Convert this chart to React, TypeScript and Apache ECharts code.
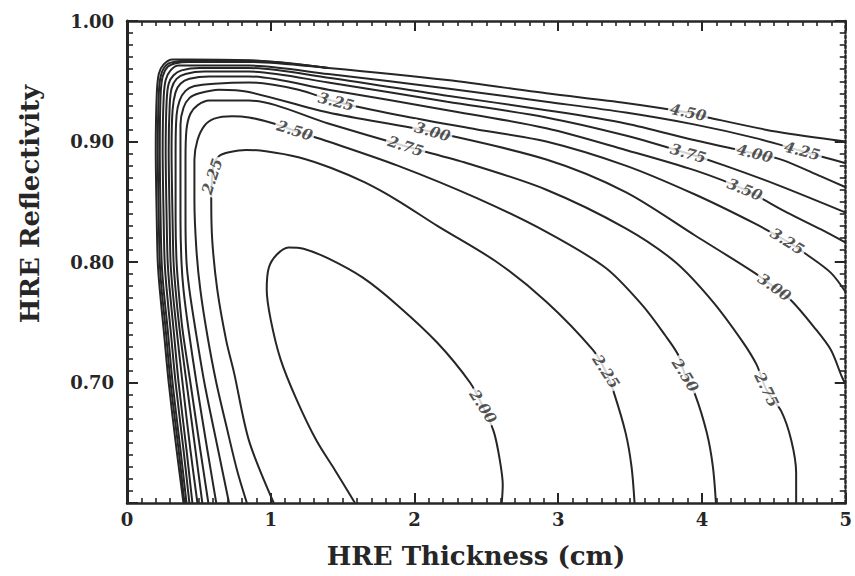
import React, { useEffect, useRef } from 'react';
import * as echarts from 'echarts';

// Axis ranges / ticks
const xRange = [0, 5];
const yRange = [0.6, 1.0];
const hiddenYLabel = '0.60';

// Contour lines: [HRE thickness (cm), HRE reflectivity]
const c200 = [[1.586,0.600],[1.448,0.627],[1.317,0.652],[1.179,0.686],[1.069,0.719],[1.000,0.752],[0.972,0.777],[0.986,0.795],[1.041,0.806],[1.124,0.812],[1.228,0.811],[1.400,0.803],[1.641,0.787],[1.883,0.764],[2.159,0.733],[2.386,0.700],[2.476,0.680],[2.552,0.659],[2.593,0.636],[2.614,0.615],[2.607,0.600]];
const c225 = [[1.021,0.600],[0.848,0.652],[0.745,0.708],[0.690,0.735],[0.628,0.777],[0.593,0.818],[0.586,0.851],[0.593,0.871],[0.607,0.882],[0.641,0.888],[0.710,0.891],[0.828,0.893],[0.966,0.892],[1.193,0.887],[1.421,0.878],[1.655,0.866],[1.883,0.851],[2.159,0.830],[2.572,0.800],[2.917,0.767],[3.241,0.727],[3.331,0.709],[3.386,0.692],[3.469,0.658],[3.510,0.630],[3.531,0.600]];
const c250 = [[0.834,0.600],[0.766,0.627],[0.697,0.661],[0.621,0.700],[0.559,0.739],[0.510,0.777],[0.483,0.810],[0.469,0.851],[0.469,0.885],[0.490,0.901],[0.538,0.913],[0.607,0.919],[0.731,0.921],[0.848,0.920],[1.021,0.915],[1.166,0.909],[1.400,0.900],[1.883,0.880],[2.434,0.853],[2.917,0.825],[3.331,0.795],[3.586,0.764],[3.745,0.739],[3.834,0.723],[3.883,0.706],[3.952,0.690],[4.034,0.658],[4.076,0.630],[4.097,0.600]];
const c275 = [[0.710,0.600],[0.634,0.644],[0.538,0.700],[0.476,0.744],[0.434,0.777],[0.414,0.800],[0.407,0.835],[0.407,0.885],[0.414,0.910],[0.441,0.923],[0.490,0.930],[0.572,0.934],[0.710,0.934],[0.848,0.934],[1.400,0.915],[1.938,0.896],[2.366,0.882],[2.917,0.860],[3.469,0.828],[3.814,0.800],[4.069,0.768],[4.276,0.735],[4.379,0.715],[4.448,0.694],[4.552,0.676],[4.621,0.652],[4.655,0.625],[4.655,0.600]];
const c300 = [[0.621,0.600],[0.559,0.644],[0.483,0.700],[0.428,0.744],[0.393,0.777],[0.379,0.800],[0.372,0.835],[0.372,0.885],[0.372,0.914],[0.393,0.928],[0.434,0.936],[0.503,0.940],[0.641,0.943],[0.848,0.941],[1.400,0.924],[2.124,0.908],[2.917,0.885],[3.469,0.858],[3.952,0.822],[4.366,0.791],[4.503,0.779],[4.621,0.768],[4.779,0.746],[4.897,0.727],[4.972,0.705],[5.000,0.698]];
const c325 = [[0.566,0.600],[0.510,0.644],[0.441,0.700],[0.386,0.744],[0.359,0.777],[0.345,0.800],[0.338,0.835],[0.338,0.893],[0.345,0.922],[0.366,0.934],[0.407,0.942],[0.469,0.946],[0.607,0.948],[0.848,0.949],[1.193,0.943],[1.455,0.933],[1.883,0.922],[2.434,0.910],[2.917,0.900],[3.469,0.880],[3.952,0.856],[4.366,0.832],[4.593,0.817],[4.731,0.806],[4.897,0.791],[5.000,0.775]];
const c350 = [[0.524,0.600],[0.476,0.644],[0.414,0.700],[0.366,0.744],[0.338,0.777],[0.324,0.800],[0.317,0.835],[0.310,0.893],[0.317,0.926],[0.338,0.941],[0.372,0.948],[0.434,0.952],[0.572,0.954],[0.848,0.954],[1.400,0.943],[2.228,0.926],[2.917,0.911],[3.469,0.893],[3.952,0.876],[4.297,0.860],[4.593,0.841],[4.828,0.827],[5.000,0.816]];
const c375 = [[0.490,0.600],[0.441,0.644],[0.386,0.700],[0.345,0.744],[0.317,0.777],[0.303,0.800],[0.297,0.835],[0.290,0.893],[0.297,0.930],[0.310,0.944],[0.345,0.952],[0.407,0.956],[0.538,0.958],[0.848,0.958],[1.400,0.949],[2.228,0.933],[2.917,0.920],[3.469,0.905],[3.903,0.890],[4.159,0.880],[4.524,0.864],[5.000,0.841]];
const c400 = [[0.455,0.600],[0.414,0.644],[0.359,0.700],[0.324,0.744],[0.297,0.777],[0.283,0.800],[0.276,0.835],[0.269,0.893],[0.276,0.934],[0.290,0.948],[0.324,0.955],[0.379,0.959],[0.503,0.961],[0.848,0.961],[1.400,0.953],[2.228,0.938],[2.917,0.926],[3.469,0.915],[3.952,0.901],[4.366,0.890],[4.552,0.885],[4.828,0.871],[5.000,0.862]];
const c425 = [[0.434,0.600],[0.393,0.644],[0.338,0.700],[0.303,0.744],[0.276,0.777],[0.262,0.800],[0.255,0.835],[0.248,0.893],[0.255,0.936],[0.269,0.951],[0.303,0.959],[0.359,0.963],[0.469,0.963],[0.848,0.963],[1.400,0.956],[2.228,0.944],[2.917,0.933],[3.469,0.924],[3.952,0.914],[4.366,0.903],[4.697,0.892],[4.848,0.887],[5.000,0.882]];
const c450 = [[0.414,0.600],[0.372,0.644],[0.317,0.700],[0.283,0.744],[0.255,0.777],[0.241,0.800],[0.234,0.835],[0.228,0.893],[0.234,0.939],[0.248,0.954],[0.283,0.962],[0.338,0.965],[0.434,0.966],[0.848,0.966],[1.400,0.961],[2.228,0.951],[2.917,0.940],[3.469,0.932],[3.903,0.924],[4.041,0.920],[4.524,0.908],[5.000,0.900]];
const c475 = [[0.400,0.600],[0.359,0.644],[0.303,0.700],[0.269,0.744],[0.241,0.777],[0.228,0.800],[0.221,0.835],[0.214,0.893],[0.221,0.939],[0.234,0.954],[0.269,0.963],[0.324,0.966],[0.434,0.967],[0.848,0.967],[1.400,0.961]];
const c500 = [[0.393,0.600],[0.345,0.644],[0.290,0.700],[0.255,0.744],[0.228,0.777],[0.214,0.800],[0.207,0.835],[0.200,0.893],[0.207,0.939],[0.221,0.956],[0.255,0.964],[0.317,0.968],[0.434,0.968],[0.917,0.967],[1.400,0.961]];

const contourLevels = ['2.00','2.25','2.50','2.75','3.00','3.25','3.50','3.75','4.00','4.25','4.50','4.75','5.00'];
const contourLines = [c200, c225, c250, c275, c300, c325, c350, c375, c400, c425, c450, c475, c500];

// Inline contour labels: [text, x, y]
const labelSites: [string, number, number][] = [
  ['2.00', 2.476, 0.680],
  ['2.25', 0.593, 0.871],
  ['2.25', 3.331, 0.709],
  ['2.50', 1.166, 0.909],
  ['2.50', 3.883, 0.706],
  ['2.75', 1.938, 0.896],
  ['2.75', 4.448, 0.694],
  ['3.00', 2.124, 0.908],
  ['3.00', 4.503, 0.779],
  ['3.25', 1.455, 0.933],
  ['3.25', 4.593, 0.817],
  ['3.50', 4.297, 0.860],
  ['3.75', 3.903, 0.890],
  ['4.00', 4.366, 0.890],
  ['4.25', 4.697, 0.892],
  ['4.50', 3.903, 0.924],
];
// label rotations (style)
const labelAngles = [-57, 72, -57, -17, -58, -18, -64, -16, -35, -14, -32, -22, -16, -14, -14, -12];

const INK = '#262626';
const SERIF = '"DejaVu Serif", "Liberation Serif", serif';

export default function App() {
  const ref = useRef<HTMLDivElement>(null);
  useEffect(() => {
    if (!ref.current) return;
    document.documentElement.style.overflow = 'hidden';
    document.body.style.overflow = 'hidden';
    document.body.style.margin = '0';
    const chart = echarts.init(ref.current, null, { renderer: 'svg' });
    const series: any[] = contourLines.map((pts, i) => ({
      type: 'line',
      name: contourLevels[i],
      data: pts,
      showSymbol: false,
      symbol: 'none',
      smooth: 0.3,
      silent: true,
      lineStyle: { color: INK, width: 2 },
      z: 2,
    }));
    series.push({
      type: 'scatter',
      data: labelSites.map((s, i) => ({ name: s[0], value: [s[1], s[2]], label: { rotate: labelAngles[i] } })),
      symbol: 'circle',
      symbolSize: 1,
      itemStyle: { color: 'rgba(0,0,0,0)' },
      silent: true,
      z: 5,
      label: {
        show: true,
        position: 'inside',
        formatter: '{b}',
        fontFamily: SERIF,
        fontWeight: 'bold',
        fontStyle: 'italic',
        fontSize: 15,
        color: INK,
        backgroundColor: '#ffffff',
        padding: [0, 2],
      },
    });

    const commonX = {
      type: 'value',
      min: xRange[0],
      max: xRange[1],
      interval: 1,
      splitLine: { show: false },
      axisLine: { show: true, onZero: false, lineStyle: { color: INK, width: 2.5 } },
      axisTick: { show: true, inside: true, length: 10, lineStyle: { color: INK, width: 2 } },
      minorTick: { show: true, splitNumber: 10, length: 5, lineStyle: { color: INK, width: 1.6 } },
    };
    const commonY = {
      type: 'value',
      min: yRange[0],
      max: yRange[1],
      interval: 0.1,
      splitLine: { show: false },
      axisTick: { show: true, inside: true, length: 11, lineStyle: { color: INK, width: 2 } },
      minorTick: { show: true, splitNumber: 10, length: 6, lineStyle: { color: INK, width: 1.6 } },
    };

    chart.setOption({
      animation: false,
      backgroundColor: '#ffffff',
      grid: { left: 127, top: 21, width: 725, height: 482, containLabel: false },
      xAxis: [
        {
          ...commonX,
          position: 'bottom',
          axisLabel: { fontFamily: SERIF, fontWeight: 'bold', fontSize: 18, color: INK, margin: 7 },
        },
        { ...commonX, position: 'top', axisLabel: { show: false } },
      ],
      yAxis: [
        {
          ...commonY,
          position: 'left',
          axisLine: { show: true, onZero: false, lineStyle: { color: INK, width: 3 } },
          axisLabel: {
            fontFamily: SERIF,
            fontWeight: 'bold',
            fontSize: 18,
            color: INK,
            margin: 13,
            formatter: (v: number) => (v.toFixed(2) === hiddenYLabel ? '' : v.toFixed(2)),
          },
        },
        {
          ...commonY,
          position: 'right',
          axisLine: { show: true, onZero: false, lineStyle: { color: INK, width: 2.5, type: 'dotted' } },
          axisLabel: { show: false },
        },
      ],
      series,
      graphic: [
        {
          type: 'text',
          x: 476,
          y: 556,
          style: {
            text: 'HRE Thickness (cm)',
            fontFamily: SERIF,
            fontWeight: 'bold',
            fontSize: 26,
            fill: INK,
            textAlign: 'center',
            textVerticalAlign: 'middle',
            align: 'center',
            verticalAlign: 'middle',
          },
        },
        {
          type: 'text',
          x: 30,
          y: 204,
          rotation: Math.PI / 2,
          style: {
            text: 'HRE Reflectivity',
            fontFamily: SERIF,
            fontWeight: 'bold',
            fontSize: 26,
            fill: INK,
            textAlign: 'center',
            textVerticalAlign: 'middle',
            align: 'center',
            verticalAlign: 'middle',
          },
        },
      ],
    });
    return () => chart.dispose();
  }, []);
  return <div ref={ref} style={{ position: 'absolute', left: 0, top: 0, width: 855, height: 576, overflow: 'hidden' }} />;
}
